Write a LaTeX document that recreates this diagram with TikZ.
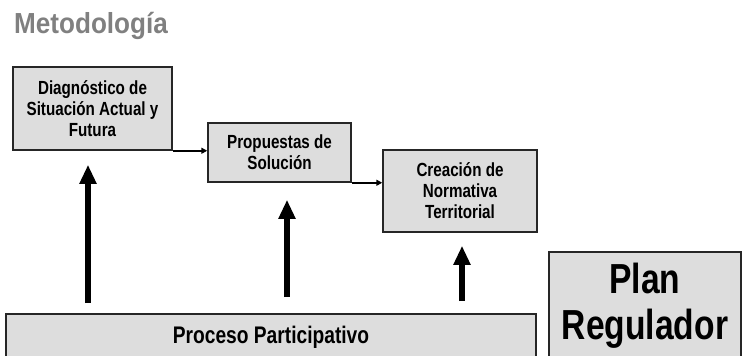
\documentclass[tikz,border=0pt]{standalone}
\usepackage{fontspec}
\setmainfont{Liberation Sans}
\newfontfamily\narrowsf{Liberation Sans}[FakeStretch=0.8]
\newfontfamily\titlesf{Liberation Sans}[FakeStretch=0.9]
\usetikzlibrary{arrows.meta}
\definecolor{cajagris}{RGB}{221,221,221}
\definecolor{titulogris}{RGB}{128,128,128}

\begin{document}
\begin{tikzpicture}[x=1pt,y=-1pt,
  paso/.style={draw=black!85,line width=1.5pt,fill=cajagris,align=center,inner sep=0pt,
    font=\narrowsf\bfseries\fontsize{19}{21}\selectfont},
  flecha/.style={-{Triangle[length=6pt,width=6pt]},line width=1.6pt},
  flechagruesa/.style={-{Triangle[length=19pt,width=16pt]},line width=6pt}]
\useasboundingbox (0,0) rectangle (745,356);
\clip (0,0) rectangle (745,356);
\node[anchor=base west,inner sep=0pt,text=titulogris,font=\titlesf\bfseries\fontsize{29}{32}\selectfont] (titulo) at (14,33) {Metodología};
% pasos
\node[paso,minimum width=159,minimum height=83] (diag) at (92.5,108.5) {Diagnóstico de\\Situación Actual y\\Futura};
\node[paso,minimum width=143,minimum height=59] (prop) at (279.5,152.5) {Propuestas de\\Solución};
\node[paso,minimum width=154,minimum height=82] (crea) at (460,191) {Creación de\\Normativa\\Territorial};
\node[paso,minimum width=530,minimum height=46,font=\narrowsf\bfseries\fontsize{24}{26}\selectfont] (proc) at (271,337) {Proceso Participativo};
\node[paso,minimum width=192,minimum height=108,font=\narrowsf\bfseries\fontsize{42}{46}\selectfont] (plan) at (645,306) {Plan\\Regulador};
% flechas
\draw[flecha] (diag.south east) -- (diag.south east -| prop.west);
\draw[flecha] (prop.south east) -- (prop.south east -| crea.west);
\coordinate (a1) at (88,303);
\coordinate (a2) at (287,297);
\coordinate (a3) at (462,301);
\draw[flechagruesa,shorten >=14pt] (a1) -- (a1 |- diag.south);
\draw[flechagruesa,shorten >=17pt] (a2) -- (a2 |- prop.south);
\draw[flechagruesa,shorten >=13pt] (a3) -- (a3 |- crea.south);
\end{tikzpicture}
\end{document}
